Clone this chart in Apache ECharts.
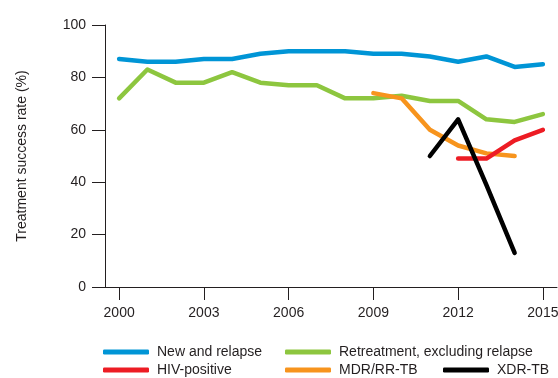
<!DOCTYPE html>
<html>
<head>
<meta charset="utf-8">
<script src="https://cdn.jsdelivr.net/npm/echarts@6/dist/echarts.min.js"></script>
<style>
html,body{margin:0;padding:0;background:#fff;}
#c{width:558px;height:378px;}
</style>
</head>
<body>
<div id="c"></div>
<script>
const years = [2000,2001,2002,2003,2004,2005,2006,2007,2008,2009,2010,2011,2012,2013,2014,2015];
const xTicks = [2000,2003,2006,2009,2012,2015];
const newRelapse = [87,86,86,87,87,89,90,90,90,89,89,88,86,88,84,85];
const retreatment = [72,83,78,78,82,78,77,77,72,72,73,71,71,64,63,66];
const mdrYears = [2009,2010,2011,2012,2013,2014];
const mdr = [74,72,60,54,51,50];
const hivYears = [2012,2013,2014,2015];
const hiv = [49,49,56,60];
const xdrYears = [2011,2012,2013,2014];
const xdr = [50,64,39,13];

const FONT = "'Liberation Sans', Arial, sans-serif";
const FS = 14;
const pairs = (xs, ys) => xs.map((x, i) => [x, ys[i]]);

const series = [
  {name:'New and relapse', color:'#0095d6', data:pairs(years,newRelapse)},
  {name:'Retreatment, excluding relapse', color:'#8dc63f', data:pairs(years,retreatment)},
  {name:'MDR/RR-TB', color:'#f7941d', data:pairs(mdrYears,mdr)},
  {name:'HIV-positive', color:'#ed1c24', data:pairs(hivYears,hiv)},
  {name:'XDR-TB', color:'#000000', data:pairs(xdrYears,xdr)}
].map(s => ({
  name: s.name, type:'line', data:s.data, showSymbol:false, symbol:'none',
  color: s.color,
  lineStyle:{width:4.5, color:s.color, cap:'round', join:'round'},
  itemStyle:{color:s.color},
  silent:true, animation:false
}));

const legendPos = [
  {name:'New and relapse', left:103, top:345},
  {name:'Retreatment, excluding relapse', left:285, top:345},
  {name:'HIV-positive', left:103, top:363},
  {name:'MDR/RR-TB', left:285, top:363},
  {name:'XDR-TB', left:443, top:363}
];

const chart = echarts.init(document.getElementById('c'), null, {renderer:'canvas'});
chart.setOption({
  animation:false,
  backgroundColor:'#fff',
  grid:{left:105, right:1, top:25, bottom:91, containLabel:false, outerBoundsMode:'none'},
  xAxis:{
    type:'value', min:1999.5, max:2015.5,
    axisLine:{show:true, lineStyle:{color:'#231f20', width:1}},
    axisTick:{show:true, customValues:xTicks, length:13, lineStyle:{color:'#231f20', width:1}},
    axisLabel:{customValues:xTicks, margin:19, fontSize:FS, fontFamily:FONT, color:'#231f20', formatter:v=>String(v), hideOverlap:false, showMinLabel:true, showMaxLabel:true},
    splitLine:{show:false}
  },
  yAxis:{
    type:'value', min:0, max:100, interval:20,
    name:'Treatment success rate (%)', nameLocation:'middle', nameGap:76, nameRotate:90,
    nameTextStyle:{fontSize:FS, fontFamily:FONT, color:'#231f20'},
    axisLine:{show:true, lineStyle:{color:'#231f20', width:1}},
    axisTick:{show:true, length:13, lineStyle:{color:'#231f20', width:1}},
    axisLabel:{margin:19, fontSize:FS, fontFamily:FONT, color:'#231f20'},
    splitLine:{show:false}
  },
  legend: legendPos.map(l => ({
    data:[l.name], left:l.left, top:l.top, orient:'horizontal',
    icon:'roundRect', itemWidth:46, itemHeight:5, padding:0,
    selectedMode:false,
    textStyle:{fontSize:FS, fontFamily:FONT, color:'#231f20', padding:[0,0,0,3], lineHeight:14}
  })),
  series: series
});
</script>
</body>
</html>
